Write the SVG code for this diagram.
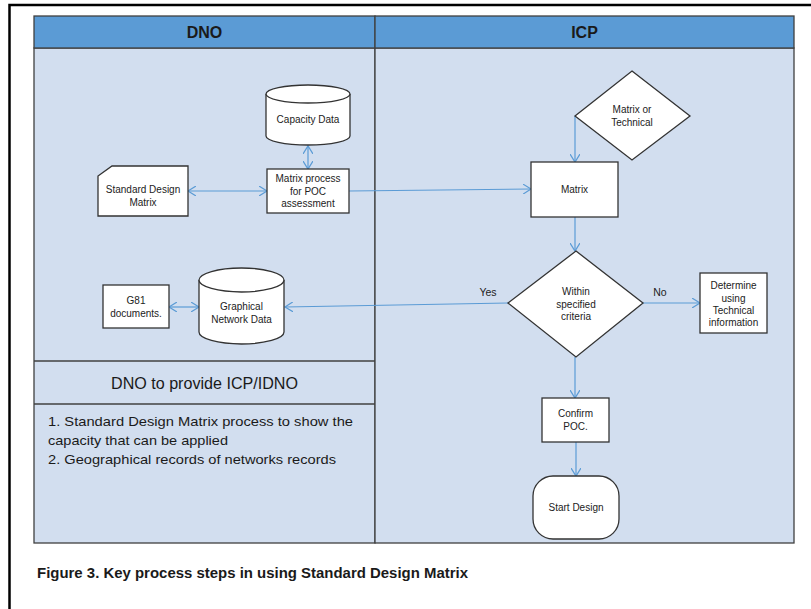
<svg xmlns="http://www.w3.org/2000/svg" width="811" height="609" viewBox="0 0 811 609">
<style>
text{font-family:"Liberation Sans",Arial,sans-serif;fill:#1a1a1a}
.hd{font-size:16px;font-weight:bold;text-anchor:middle}
.n{font-size:10px;text-anchor:middle;fill:#222}
.box{fill:#fff;stroke:#333;stroke-width:1.3}
.lane{fill:#D2DEEF;stroke:#404040;stroke-width:1.3}
.c{fill:none;stroke:#5B9BD5;stroke-width:1.2}
.lbl{font-size:10.5px;text-anchor:middle;fill:#222}
</style>
<defs>
<marker id="ah" markerWidth="10" markerHeight="10" refX="8" refY="5" orient="auto-start-reverse" markerUnits="userSpaceOnUse">
<path d="M0,0 L8,5 L0,10" fill="none" stroke="#5B9BD5" stroke-width="1.2"/>
</marker>
</defs>
<rect x="0" y="0" width="811" height="609" fill="#fff"/>
<rect x="9.5" y="5" width="830" height="640" fill="none" stroke="#000" stroke-width="2.5"/>
<g id="pool">
<rect x="34" y="48" width="341" height="495" class="lane"/>
<rect x="375" y="48" width="419" height="495" class="lane"/>
<rect x="34" y="16" width="341" height="32" fill="#5B9BD5" stroke="#404040" stroke-width="1.3"/>
<rect x="375" y="16" width="419" height="32" fill="#5B9BD5" stroke="#404040" stroke-width="1.3"/>
<text x="204.5" y="38" class="hd">DNO</text>
<text x="584.5" y="38" class="hd">ICP</text>
<line x1="34" y1="361" x2="375" y2="361" stroke="#404040" stroke-width="1.3"/>
<line x1="34" y1="404" x2="375" y2="404" stroke="#404040" stroke-width="1.3"/>
<text x="204.5" y="389" font-size="16" text-anchor="middle" textLength="187" lengthAdjust="spacingAndGlyphs">DNO to provide ICP/IDNO</text>
<text x="48" y="426" font-size="13.5" textLength="305" lengthAdjust="spacingAndGlyphs">1. Standard Design Matrix process  to show the</text>
<text x="48" y="445" font-size="13.5" textLength="180" lengthAdjust="spacingAndGlyphs">capacity that can be applied</text>
<text x="48" y="464" font-size="13.5" textLength="288" lengthAdjust="spacingAndGlyphs">2. Geographical records of networks records</text>
</g>
<g id="connectors">
<line x1="308" y1="146" x2="308" y2="169" class="c" marker-start="url(#ah)" marker-end="url(#ah)"/>
<line x1="188" y1="191" x2="267" y2="191" class="c" marker-start="url(#ah)" marker-end="url(#ah)"/>
<line x1="349" y1="191" x2="531" y2="189" class="c" marker-end="url(#ah)"/>
<polyline points="575,116 575,162" class="c" marker-end="url(#ah)"/>
<line x1="575" y1="217" x2="575" y2="251" class="c" marker-end="url(#ah)"/>
<line x1="643" y1="303" x2="700" y2="303" class="c" marker-end="url(#ah)"/>
<line x1="508" y1="303" x2="285" y2="307" class="c" marker-end="url(#ah)"/>
<line x1="169" y1="307" x2="199" y2="307" class="c" marker-start="url(#ah)" marker-end="url(#ah)"/>
<line x1="575" y1="357" x2="575" y2="398" class="c" marker-end="url(#ah)"/>
<line x1="576" y1="442" x2="576" y2="476" class="c" marker-end="url(#ah)"/>
<text x="488" y="296" class="lbl">Yes</text>
<text x="660" y="296" class="lbl">No</text>
</g>
<g id="capacity-data">
<path d="M266,94 A42,9 0 0 1 350,94 L350,136 A42,9 0 0 1 266,136 Z" class="box"/>
<path d="M266,94 A42,9 0 0 0 350,94" class="box" fill="none"/>
<text x="308" y="123" class="n">Capacity Data</text>
</g>
<g id="matrix-process">
<rect x="267" y="169" width="82" height="44" class="box"/>
<text x="308" y="182" class="n">Matrix process</text>
<text x="308" y="195" class="n">for POC</text>
<text x="308" y="207" class="n">assessment</text>
</g>
<g id="standard-design-matrix">
<path d="M112,166 L188,166 L188,216 L98,216 L98,176 Z" class="box"/>
<text x="143" y="193" class="n">Standard Design</text>
<text x="143" y="206" class="n">Matrix</text>
</g>
<g id="matrix-or-technical">
<path d="M632,71 L690,116 L632,160 L575,116 Z" class="box"/>
<text x="632" y="113" class="n">Matrix or</text>
<text x="632" y="126" class="n">Technical</text>
</g>
<g id="matrix">
<rect x="531" y="162" width="87" height="55" class="box"/>
<text x="574.5" y="193" class="n">Matrix</text>
</g>
<g id="within-criteria">
<path d="M576,251 L643,303 L576,357 L508,303 Z" class="box"/>
<text x="576" y="295" class="n">Within</text>
<text x="576" y="308" class="n">specified</text>
<text x="576" y="320" class="n">criteria</text>
</g>
<g id="determine">
<rect x="700" y="273" width="67" height="60" class="box"/>
<text x="733.5" y="289" class="n">Determine</text>
<text x="733.5" y="302" class="n">using</text>
<text x="733.5" y="314" class="n">Technical</text>
<text x="733.5" y="326" class="n">information</text>
</g>
<g id="graphical-network-data">
<path d="M199,280 A42.5,12 0 0 1 284,280 L284,332 A42.5,12 0 0 1 199,332 Z" class="box"/>
<path d="M199,280 A42.5,12 0 0 0 284,280" class="box" fill="none"/>
<text x="241.5" y="310" class="n">Graphical</text>
<text x="241.5" y="323" class="n">Network Data</text>
</g>
<g id="g81">
<rect x="103" y="285" width="66" height="43" class="box"/>
<text x="136" y="304" class="n">G81</text>
<text x="136" y="317" class="n">documents.</text>
</g>
<g id="confirm-poc">
<rect x="542" y="398" width="67" height="44" class="box"/>
<text x="575.5" y="417" class="n">Confirm</text>
<text x="575.5" y="430" class="n">POC.</text>
</g>
<g id="start-design">
<rect x="533" y="476" width="86" height="63" rx="20" ry="20" class="box"/>
<text x="576" y="511" class="n">Start Design</text>
</g>
<text x="37" y="578" font-size="15" font-weight="bold" textLength="431" lengthAdjust="spacingAndGlyphs">Figure 3.  Key process steps in using Standard Design Matrix</text>
</svg>
